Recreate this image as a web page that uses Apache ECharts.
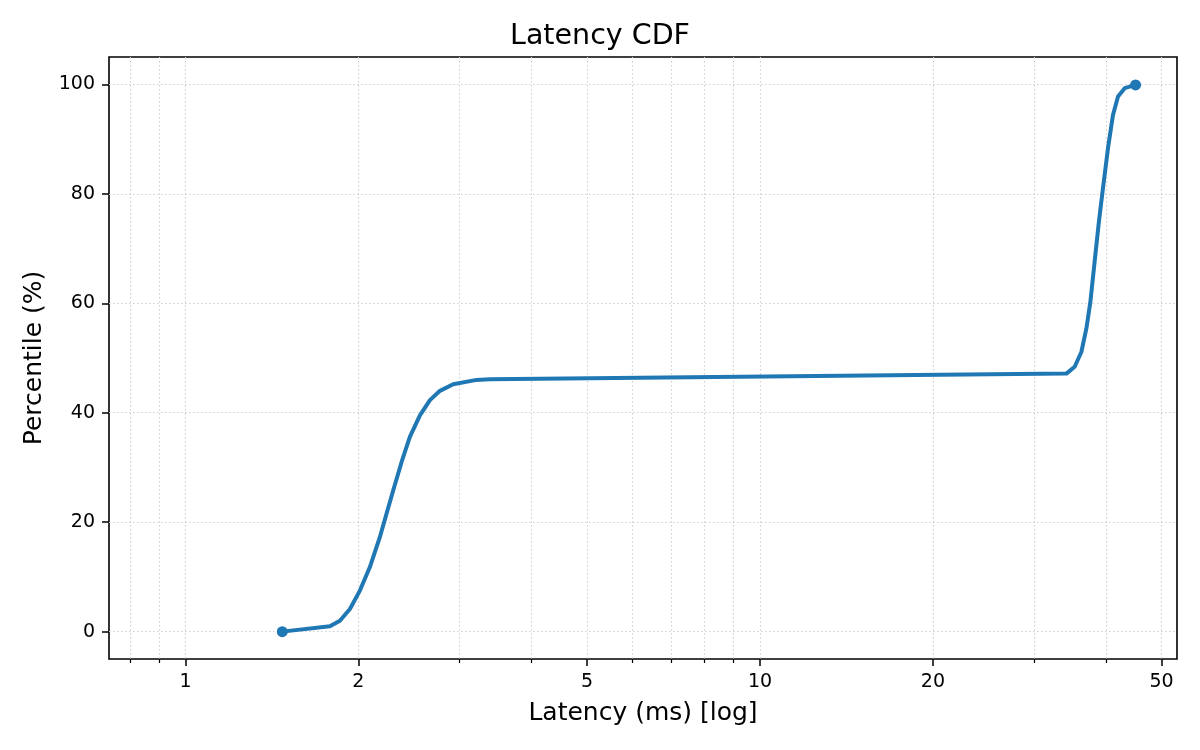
<!DOCTYPE html>
<html>
  <head>
    <meta charset="UTF-8" />
    <title>Latency CDF</title>
    <style>
      html, body { margin: 0; padding: 0; background: #fff; }
      #chart { width: 1200px; height: 750px; }
    </style>
    <script src="https://cdn.jsdelivr.net/npm/echarts@6/dist/echarts.min.js"></script>
  </head>
  <body>
    <div id="chart"></div>
    <script>
      // values
      var latencyMs = [1.474, 1.784, 1.857, 1.933, 2.012, 2.094, 2.180, 2.239, 2.299, 2.378, 2.458,
                       2.559, 2.664, 2.773, 2.924, 3.212, 3.388,
                       34.15, 35.30, 36.26, 37.0, 37.6, 38.24, 38.9, 39.54, 40.34, 41.16, 42.0, 43.14, 45.06];
      var percentile = [0, 0.97, 2.0, 4.15, 7.5, 11.8, 17.3, 21.6, 25.8, 31.0, 35.6,
                        39.5, 42.3, 44.0, 45.2, 46.0, 46.1,
                        47.15, 48.4, 51.1, 55.4, 60.3, 67.6, 74.9, 81.0, 88.3, 94.4, 97.8, 99.3, 99.9];
      var xMajorTicks = [1, 2, 5, 10, 20, 50];
      var xMinorTicks = [0.8, 0.9, 3, 4, 6, 7, 8, 9, 30, 40];
      var yTicks = [0, 20, 40, 60, 80, 100];

      var font = "DejaVu Sans";
      var gridLine = { show: true, lineStyle: { color: "#cfcfcf", width: 1.2, type: [1.5, 2.5] } };

      var points = latencyMs.map(function (v, i) { return [v, percentile[i]]; });
      var last = points.length - 1;

      var chart = echarts.init(document.getElementById("chart"));
      chart.setOption({
        animation: false,
        backgroundColor: "#fff",
        textStyle: { fontFamily: font },
        title: {
          text: "Latency CDF",
          left: "center",
          top: 17,
          textStyle: { fontFamily: font, fontSize: 28.5, fontWeight: "normal", color: "#000" }
        },
        grid: {
          left: 109, right: 23, top: 57, bottom: 91,
          show: true, borderColor: "#000", borderWidth: 1.6, backgroundColor: "#fff"
        },
        xAxis: [
          {
            type: "log",
            logBase: 10,
            min: 0.736,
            max: 53.2,
            position: "bottom",
            name: "Latency (ms) [log]",
            nameLocation: "middle",
            nameGap: 42,
            nameTextStyle: { fontFamily: font, fontSize: 25, color: "#000" },
            axisLine: { show: false, onZero: false },
            axisTick: { show: true, length: 7, customValues: xMajorTicks, lineStyle: { color: "#000", width: 1.5 } },
            axisLabel: { customValues: xMajorTicks, margin: 14, fontSize: 19, color: "#000", fontFamily: font },
            splitLine: gridLine
          },
          {
            type: "log",
            logBase: 10,
            min: 0.736,
            max: 53.2,
            position: "bottom",
            axisLine: { show: false, onZero: false },
            axisTick: { show: true, length: 4, customValues: xMinorTicks, lineStyle: { color: "#000", width: 1.2 } },
            axisLabel: { show: false },
            splitLine: gridLine
          }
        ],
        yAxis: {
          type: "value",
          min: -5,
          max: 105,
          name: "Percentile (%)",
          nameLocation: "middle",
          nameGap: 62,
          nameTextStyle: { fontFamily: font, fontSize: 25, color: "#000" },
          axisLine: { show: false, onZero: false },
          axisTick: { show: true, length: 7, customValues: yTicks, lineStyle: { color: "#000", width: 1.5 } },
          axisLabel: { customValues: yTicks, margin: 14, fontSize: 19, color: "#000", fontFamily: font },
          splitLine: gridLine
        },
        series: [
          {
            type: "line",
            xAxisIndex: 0,
            data: points,
            smooth: false,
            symbol: "circle",
            showSymbol: true,
            // only the first and last samples carry a marker
            symbolSize: function (val, params) {
              return params.dataIndex === 0 || params.dataIndex === last ? 11 : 0;
            },
            itemStyle: { color: "#1f77b4" },
            lineStyle: { color: "#1f77b4", width: 4, join: "round", cap: "round" },
            z: 5
          }
        ]
      });
    </script>
  </body>
</html>
